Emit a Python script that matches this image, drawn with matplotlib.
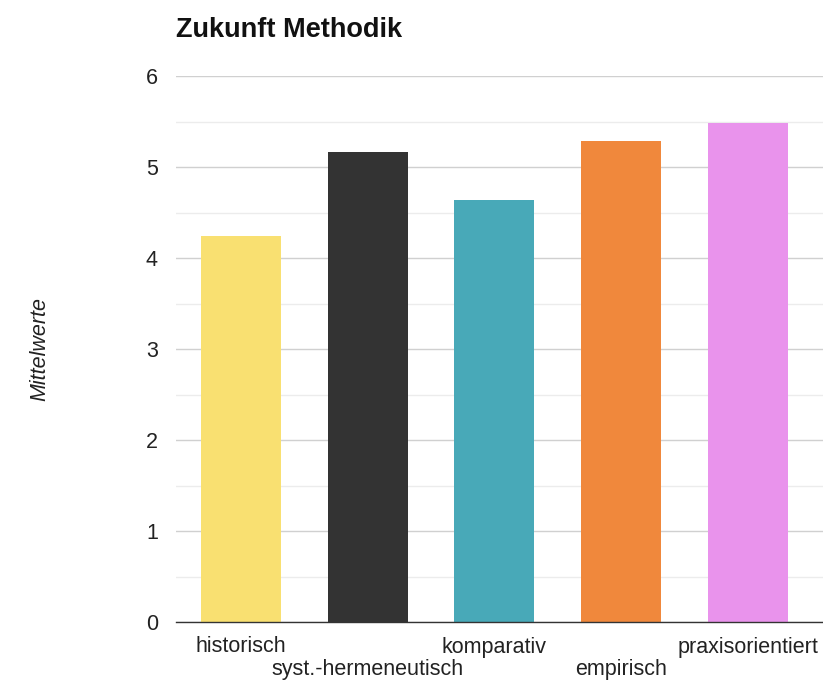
import matplotlib
matplotlib.use("Agg")
import matplotlib.pyplot as plt
from matplotlib.ticker import MultipleLocator

categories = ["historisch", "syst.-hermeneutisch", "komparativ", "empirisch", "praxisorientiert"]
values = [4.24, 5.17, 4.64, 5.29, 5.48]
colors = ["#f9e071", "#333333", "#48a9b8", "#f0883c", "#e993ec"]
yticks = [0, 1, 2, 3, 4, 5, 6]

plt.rcParams['font.family'] = ['Liberation Sans', 'DejaVu Sans']

fig = plt.figure(figsize=(8.23, 6.82), dpi=100)
ax = fig.add_axes([176/823, 1-622/682, 647/823, (622-76)/682])

x = list(range(len(categories)))
ax.bar(x, values, width=0.63, color=colors, zorder=3)
ax.set_xlim(-0.51, 4.59)
ax.set_ylim(0, 6)
ax.set_yticks(yticks)
ax.yaxis.set_minor_locator(MultipleLocator(0.5))
ax.grid(axis='y', which='major', color='#d0d0d0', linewidth=1.0, zorder=0)
ax.grid(axis='y', which='minor', color='#ececec', linewidth=1.0, zorder=0)
for s in ['top', 'right', 'left']:
    ax.spines[s].set_visible(False)
ax.spines['bottom'].set_color('#333333')
ax.spines['bottom'].set_linewidth(1.0)
ax.spines['bottom'].set_zorder(4)
ax.tick_params(axis='y', which='both', length=0, pad=13, labelsize=15.5, labelcolor='#222222')
ax.tick_params(axis='x', length=0)
ax.set_xticks(x)
ax.set_xticklabels([])
for i, c in enumerate(categories):
    off = 0 if i % 2 == 0 else 1
    ax.annotate(c, xy=(i, 0), xycoords=('data', 'axes fraction'),
                xytext=(0, -25 - off * 23), textcoords='offset pixels',
                ha='center', va='center', fontsize=15.5, color='#222222')

fig.text(176/823, 1-30/682, "Zukunft Methodik", fontsize=19.5, fontweight='bold',
         ha='left', va='center', color='#111111')
fig.text(40/823, 1-349/682, "Mittelwerte", fontsize=15.5, style='italic',
         rotation=90, ha='center', va='center', color='#222222')

fig.savefig("out.png", dpi=100)
